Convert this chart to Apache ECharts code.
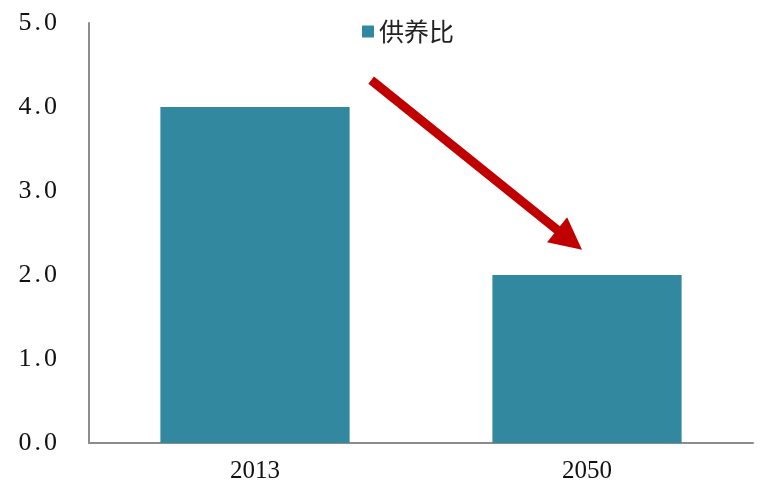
<!DOCTYPE html>
<html>
<head>
<meta charset="utf-8">
<script src="https://cdn.jsdelivr.net/npm/echarts@6/dist/echarts.min.js"></script>
<style>html,body{margin:0;padding:0;background:#fff}#c{width:763px;height:492px}</style>
</head>
<body>
<div id="c"></div>
<script>
var categories = ['2013', '2050'];
var seriesName = '供养比';
var values = [4.0, 2.0];
var yTicks = [0, 1, 2, 3, 4, 5];
// arrow annotation (start/end in data terms: category position fraction, value)
var arrowStart = [0.35, 4.32];
var arrowEnd = [0.985, 2.3];

var chart = echarts.init(document.getElementById('c'));
var labelFont = { fontFamily: 'Liberation Serif', fontSize: 26, color: '#111' };
var option = {
  animation: false,
  backgroundColor: '#fff',
  legend: {
    data: [seriesName],
    top: 14,
    left: 357,
    icon: 'rect',
    itemWidth: 12,
    itemHeight: 12,
    itemGap: 6,
    textStyle: { fontFamily: 'Noto Sans CJK SC', fontSize: 25, color: '#222' }
  },
  grid: { left: 89, right: 10, top: 23, bottom: 49, containLabel: false },
  xAxis: {
    type: 'category',
    data: categories,
    axisLine: { lineStyle: { color: '#8c8c8c', width: 2 } },
    axisTick: { show: false },
    axisLabel: { fontFamily: 'Liberation Serif', fontSize: 25, color: '#111', margin: 16 }
  },
  yAxis: {
    type: 'value',
    min: yTicks[0],
    max: yTicks[yTicks.length - 1],
    interval: 1,
    axisLine: { show: true, lineStyle: { color: '#8c8c8c', width: 2 } },
    axisTick: { show: false },
    splitLine: { show: false },
    axisLabel: {
      fontFamily: 'Liberation Serif', fontSize: 26, color: '#111', margin: 32,
      formatter: function (v) {
        var t = v.toFixed(1).split('.');
        return '{d|' + t[0] + '}{p|.}{d|' + t[1] + '}';
      },
      rich: {
        d: labelFont,
        p: { fontFamily: 'Liberation Serif', fontSize: 26, color: '#111', padding: [0, 3, 0, 3] }
      }
    }
  },
  series: [{
    name: seriesName,
    type: 'bar',
    data: values,
    barWidth: '57%',
    itemStyle: { color: '#32889e' }
  }]
};
chart.setOption(option);

function toPx(p) {
  var a = chart.convertToPixel({ xAxisIndex: 0, yAxisIndex: 0 }, [0, p[1]]);
  var b = chart.convertToPixel({ xAxisIndex: 0, yAxisIndex: 0 }, [1, p[1]]);
  return [a[0] + (b[0] - a[0]) * p[0], a[1]];
}
var s = toPx(arrowStart), e = toPx(arrowEnd);
var dx = e[0] - s[0], dy = e[1] - s[1];
var len = Math.sqrt(dx * dx + dy * dy);
var ux = dx / len, uy = dy / len;
var headLen = 32, headHalf = 16;
var bx = e[0] - ux * headLen, by = e[1] - uy * headLen;
var px = -uy, py = ux;
chart.setOption({
  graphic: [
    { type: 'line', shape: { x1: s[0], y1: s[1], x2: bx + ux * 2, y2: by + uy * 2 },
      style: { stroke: '#c00000', lineWidth: 9 }, z: 100 },
    { type: 'polygon', shape: { points: [[e[0], e[1]], [bx + px * headHalf, by + py * headHalf], [bx - px * headHalf, by - py * headHalf]] },
      style: { fill: '#c00000' }, z: 100 }
  ]
});
</script>
</body>
</html>
